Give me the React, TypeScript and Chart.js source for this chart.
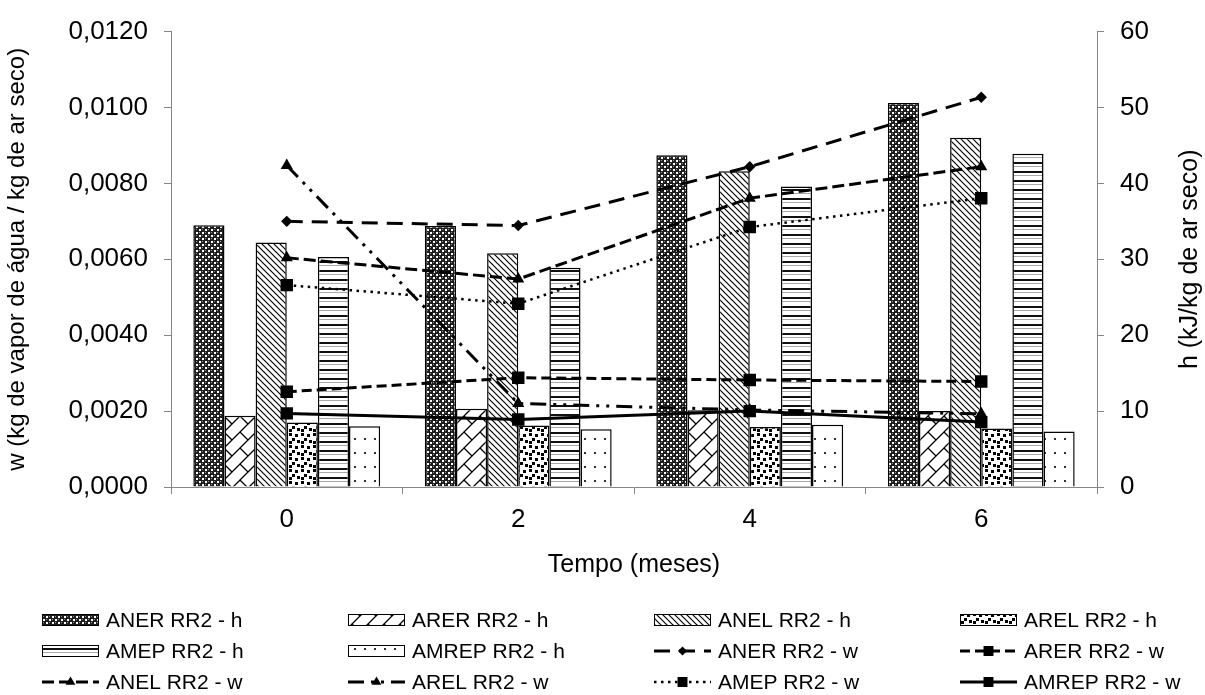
import React, { useEffect, useRef } from 'react';
import { Chart, registerables } from 'chart.js';

Chart.register(...registerables);

// ---------- data ----------
const categories = ['0', '2', '4', '6'];

// h (kJ/kg de ar seco) - bars, right axis
const anerH = [34.5, 34.4, 43.7, 50.6];
const arerH = [9.4, 10.3, 10.1, 10.0];
const anelH = [32.2, 30.8, 41.6, 46.0];
const arelH = [8.5, 8.1, 7.9, 7.7];
const amepH = [30.3, 28.9, 39.6, 43.9];
const amrepH = [8.0, 7.6, 8.2, 7.3];

// w (kg de vapor de água / kg de ar seco) - lines, left axis
const anerW = [0.0070, 0.00689, 0.00844, 0.01027];
const arerW = [0.00251, 0.00288, 0.00282, 0.00278];
const anelW = [0.00604, 0.00548, 0.00761, 0.00844];
const arelW = [0.00847, 0.0022, 0.00203, 0.00193];
const amepW = [0.00532, 0.00483, 0.00685, 0.00761];
const amrepW = [0.00194, 0.00178, 0.002, 0.00171];

const rightTitle = 'h (kJ/kg de ar seco)';

const FONT = "'Liberation Sans', Arial, sans-serif";
const AXIS_GRAY = '#868686';

function makePattern(kind: string): CanvasPattern {
  const c = document.createElement('canvas');
  let w = 6, h = 6;
  if (kind === 'brick') { w = 16; h = 16; }
  if (kind === 'confetti') { w = 12; h = 12; }
  if (kind === 'hstripe') { w = 4; h = 9; }
  if (kind === 'dots') { w = 10; h = 14; }
  c.width = w; c.height = h;
  const ctx = c.getContext('2d')!;
  ctx.fillStyle = '#fff';
  ctx.fillRect(0, 0, w, h);
  if (kind === 'dark') {
    ctx.fillStyle = '#1e1e1e';
    ctx.fillRect(0, 0, w, h);
    ctx.fillStyle = '#ffffff';
    ctx.fillRect(1, 1, 2, 2);
    ctx.fillRect(4, 4, 2, 2);
    ctx.fillStyle = '#9a9a9a';
    ctx.fillRect(4, 1, 1, 1);
    ctx.fillRect(1, 4, 1, 1);
  } else if (kind === 'brick') {
    ctx.strokeStyle = '#000';
    ctx.lineWidth = 1.3;
    ctx.beginPath();
    ctx.moveTo(-1, 17); ctx.lineTo(17, -1);
    ctx.moveTo(-2, 2); ctx.lineTo(2, -2);
    ctx.moveTo(14, 18); ctx.lineTo(18, 14);
    ctx.moveTo(0, 0); ctx.lineTo(8, 8);
    ctx.stroke();
  } else if (kind === 'diag') {
    ctx.strokeStyle = '#000';
    ctx.lineWidth = 1.2;
    ctx.beginPath();
    for (const x0 of [-6, 0, 6]) {
      ctx.moveTo(x0 - 1, -1);
      ctx.lineTo(x0 + 7, 7);
    }
    ctx.stroke();
  } else if (kind === 'confetti') {
    ctx.fillStyle = '#000';
    const sq = [[1, 1], [7, 2], [4, 6], [9, 8], [1, 9]];
    sq.forEach(([x, y]) => ctx.fillRect(x, y, 3, 3));
  } else if (kind === 'hstripe') {
    ctx.fillStyle = '#111';
    ctx.fillRect(0, 0, w, 2);
    ctx.fillStyle = '#a8a8a8';
    ctx.fillRect(0, 4, w, 1);
  } else if (kind === 'dots') {
    ctx.fillStyle = '#333';
    ctx.fillRect(4, 4, 2, 2);
  }
  return ctx.createPattern(c, 'repeat')!;
}

function drawMarker(ctx: CanvasRenderingContext2D, style: string, x: number, y: number, r: number) {
  ctx.beginPath();
  if (style === 'rect') {
    const s = Math.SQRT1_2 * r;
    ctx.rect(x - s, y - s, 2 * s, 2 * s);
  } else if (style === 'rectRot') {
    ctx.moveTo(x, y - r);
    ctx.lineTo(x + r, y);
    ctx.lineTo(x, y + r);
    ctx.lineTo(x - r, y);
    ctx.closePath();
  } else if (style === 'triangle') {
    ctx.moveTo(x, y - r);
    ctx.lineTo(x + 0.866 * r, y + 0.5 * r);
    ctx.lineTo(x - 0.866 * r, y + 0.5 * r);
    ctx.closePath();
  }
  ctx.fillStyle = '#000';
  ctx.fill();
}

const gridLegend = {
  id: 'gridLegend',
  afterDraw(chart: any) {
    const ctx: CanvasRenderingContext2D = chart.ctx;
    const datasets = chart.data.datasets;
    ctx.save();
    datasets.forEach((ds: any, i: number) => {
      const col = i % 4;
      const row = Math.floor(i / 4);
      const x0 = 42 + col * 306;
      const yc = 620 + row * 31;
      if (ds.type === 'bar') {
        ctx.fillStyle = ds.backgroundColor;
        ctx.fillRect(x0, yc - 6, 57, 12);
        ctx.strokeStyle = '#000';
        ctx.lineWidth = 1;
        ctx.setLineDash([]);
        ctx.strokeRect(x0 + 0.5, yc - 5.5, 56, 11);
      } else {
        ctx.strokeStyle = '#000';
        ctx.lineWidth = ds.borderWidth;
        ctx.setLineDash(ds.borderDash || []);
        ctx.beginPath();
        ctx.moveTo(x0, yc);
        ctx.lineTo(x0 + 57, yc);
        ctx.stroke();
        ctx.setLineDash([]);
        drawMarker(ctx, ds.pointStyle, x0 + 28.5, yc, ds.pointRadius * 0.8);
      }
      ctx.fillStyle = '#000';
      ctx.font = `21px ${FONT}`;
      ctx.textBaseline = 'middle';
      ctx.textAlign = 'left';
      ctx.fillText(ds.label, x0 + 64, yc + 1);
    });

    // right axis title, reading bottom-to-top
    const area = chart.chartArea;
    ctx.translate(1190, (area.top + area.bottom) / 2);
    ctx.rotate(-Math.PI / 2);
    ctx.font = `25px ${FONT}`;
    ctx.textAlign = 'center';
    ctx.textBaseline = 'middle';
    ctx.fillStyle = '#000';
    ctx.fillText(rightTitle, 0, 0);
    ctx.restore();
  },
};

export default function App() {
  const ref = useRef<HTMLCanvasElement | null>(null);

  useEffect(() => {
    if (!ref.current) return;
    Chart.defaults.font.family = FONT;
    Chart.defaults.color = '#000';

    const bar = (label: string, data: number[], kind: string) => ({
      type: 'bar' as const,
      label,
      data,
      yAxisID: 'y1',
      backgroundColor: makePattern(kind),
      borderColor: '#000',
      borderWidth: 1.5,
      barPercentage: 1,
      categoryPercentage: 0.807,
      order: 2,
    });
    const line = (label: string, data: number[], dash: number[], style: string, r: number, lw = 3) => ({
      type: 'line' as const,
      label,
      data,
      yAxisID: 'y',
      borderColor: '#000',
      backgroundColor: '#000',
      borderWidth: lw,
      borderDash: dash,
      pointStyle: style,
      pointRadius: r,
      pointBackgroundColor: '#000',
      pointBorderColor: '#000',
      pointBorderWidth: 0,
      fill: false,
      tension: 0,
      order: 1,
    });

    const chart = new Chart(ref.current, {
      type: 'bar',
      data: {
        labels: categories,
        datasets: [
          bar('ANER RR2 - h', anerH, 'dark'),
          bar('ARER RR2 - h', arerH, 'brick'),
          bar('ANEL RR2 - h', anelH, 'diag'),
          bar('AREL RR2 - h', arelH, 'confetti'),
          bar('AMEP RR2 - h', amepH, 'hstripe'),
          bar('AMREP RR2 - h', amrepH, 'dots'),
          line('ANER RR2 - w', anerW, [16, 9], 'rectRot', 5.7),
          line('ARER RR2 - w', arerW, [10, 5], 'rect', 8.8),
          line('ANEL RR2 - w', anelW, [12, 5], 'triangle', 7),
          line('AREL RR2 - w', arelW, [16, 7, 3, 7, 3, 7], 'triangle', 7),
          line('AMEP RR2 - w', amepW, [2.5, 4.5], 'rect', 8.8, 2.5),
          line('AMREP RR2 - w', amrepW, [], 'rect', 8.8),
        ] as any,
      },
      options: {
        responsive: false,
        animation: false,
        layout: { padding: { top: 28, bottom: 105, left: 0, right: 0 } },
        plugins: {
          legend: { display: false },
          tooltip: { enabled: false },
        },
        scales: {
          x: {
            type: 'category',
            offset: true,
            grid: {
              display: true,
              offset: true,
              drawOnChartArea: false,
              drawTicks: true,
              tickLength: 7,
              color: AXIS_GRAY,
            },
            border: { display: true, color: AXIS_GRAY, width: 1 },
            ticks: { font: { size: 26 }, padding: 10, color: '#000' },
            title: {
              display: true,
              text: 'Tempo (meses)',
              font: { size: 25 },
              color: '#000',
              padding: { top: 0, bottom: 10 },
            },
            afterFit: (s: any) => { s.height = 103; },
          },
          y: {
            type: 'linear',
            position: 'left',
            min: 0,
            max: 0.012,
            grid: { drawOnChartArea: false, tickLength: 7, color: AXIS_GRAY },
            border: { display: true, color: AXIS_GRAY, width: 1 },
            ticks: {
              stepSize: 0.002,
              padding: 16,
              font: { size: 26 },
              color: '#000',
              callback: (v: any) => Number(v).toFixed(4).replace('.', ','),
            },
            title: {
              display: true,
              text: 'w (kg de vapor de água / kg de ar seco)',
              font: { size: 24 },
              color: '#000',
              padding: { top: 3, bottom: 0 },
            },
            afterFit: (s: any) => { s.width = 171; },
          },
          y1: {
            type: 'linear',
            position: 'right',
            min: 0,
            max: 60,
            grid: { drawOnChartArea: false, tickLength: 7, color: AXIS_GRAY },
            border: { display: true, color: AXIS_GRAY, width: 1 },
            ticks: { stepSize: 10, padding: 16, font: { size: 26 }, color: '#000' },
            title: { display: false },
            afterFit: (s: any) => { s.width = 108; },
          },
        },
      },
      plugins: [gridLegend],
    } as any);

    return () => chart.destroy();
  }, []);

  return (
    <div style={{ position: 'absolute', left: 0, top: 0, width: 1205, height: 695, background: '#fff' }}>
      <canvas ref={ref} width={1205} height={695} style={{ display: 'block' }} />
    </div>
  );
}
